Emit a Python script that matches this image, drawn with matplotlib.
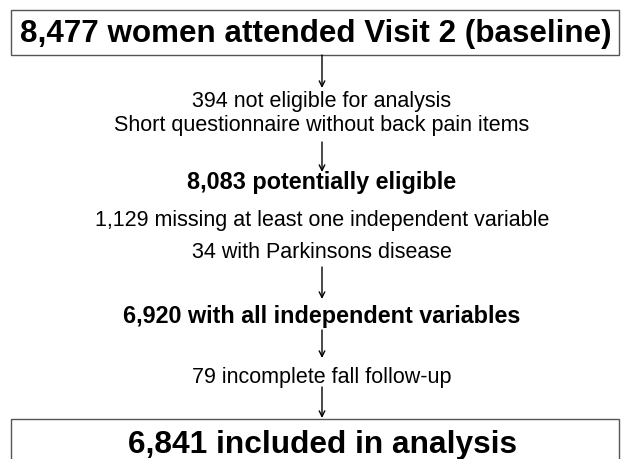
import matplotlib
matplotlib.use("Agg")
import matplotlib.pyplot as plt
from matplotlib.patches import Rectangle

plt.rcParams['font.family'] = ['Liberation Sans', 'DejaVu Sans']

# Flow stages
stage_texts = [
    "8,477 women attended Visit 2 (baseline)",
    "394 not eligible for analysis",
    "Short questionnaire without back pain items",
    "8,083 potentially eligible",
    "1,129 missing at least one independent variable",
    "34 with Parkinsons disease",
    "6,920 with all independent variables",
    "79 incomplete fall follow-up",
    "6,841 included in analysis",
]
stage_x = [316, 322, 322, 322, 322, 322, 322, 322, 322]
stage_y = [34, 101, 126, 183, 221, 252, 317, 378, 445]
stage_size = [22.6, 15.5, 15.5, 16.8, 15.5, 15.5, 16.8, 15.5, 22.8]
stage_bold = [True, False, False, True, False, False, True, False, True]

# Arrows (y start, y end) in px
arrow_start = [56, 143, 268, 331, 388]
arrow_end = [89, 173, 300, 359, 419]
arrow_x = 322

fig = plt.figure(figsize=(6.22, 4.6), dpi=100)
ax = fig.add_axes([0, 0, 1, 1])
ax.set_xlim(0, 622)
ax.set_ylim(460, 0)
ax.axis('off')

# boxes
ax.add_patch(Rectangle((11, 11), 608, 45, fill=False, ec='#555555', lw=1))
ax.add_patch(Rectangle((11, 420), 608, 60, fill=False, ec='#555555', lw=1))

for t, x, y, s, b in zip(stage_texts, stage_x, stage_y, stage_size, stage_bold):
    ax.text(x, y, t, ha='center', va='center', fontsize=s,
            fontweight='bold' if b else 'normal', color='black')

for y0, y1 in zip(arrow_start, arrow_end):
    ax.annotate('', xy=(arrow_x, y1), xytext=(arrow_x, y0),
                arrowprops=dict(arrowstyle='->', lw=1, color='black',
                                shrinkA=0, shrinkB=0, mutation_scale=10))

fig.savefig('out.png', dpi=100)
